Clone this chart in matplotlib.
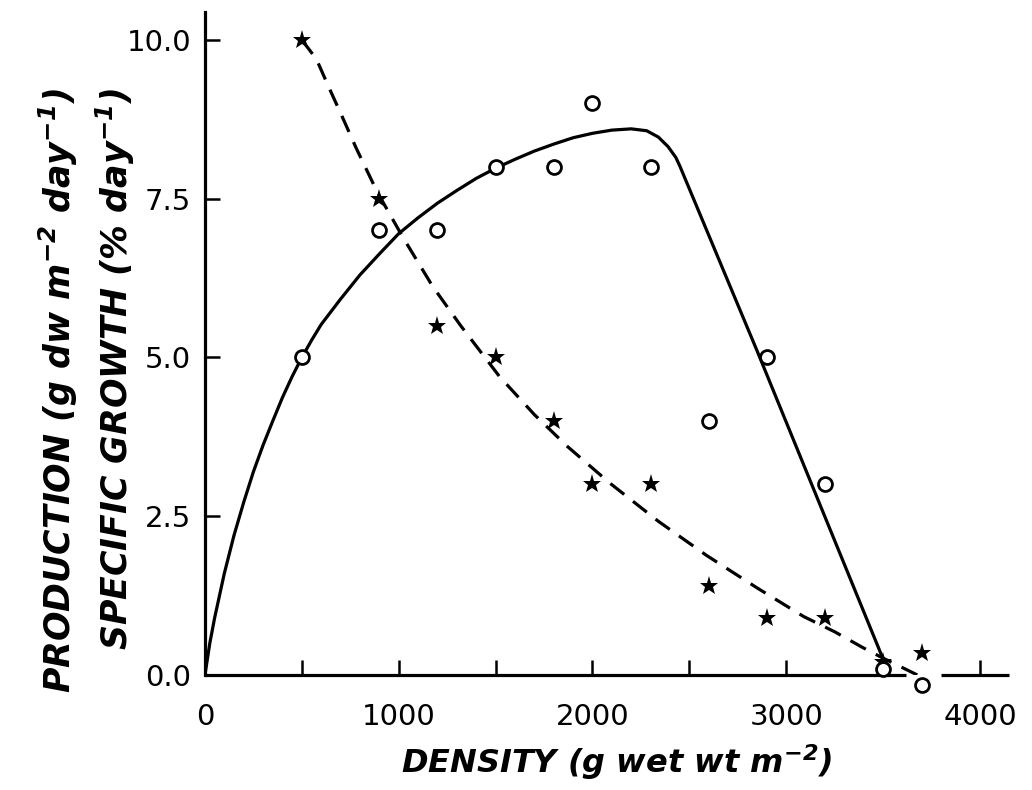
import matplotlib.pyplot as plt
from matplotlib.ticker import MultipleLocator, FixedLocator

plt.rcParams['font.family'] = 'DejaVu Sans'
plt.rcParams['mathtext.fontset'] = 'dejavusans'
plt.rcParams['mathtext.default'] = 'bfit'

# production (open circles)
prod_x = [500, 900, 1200, 1500, 1800, 2000, 2300, 2600, 2900, 3200, 3500, 3700]
prod_y = [5.0, 7.0, 7.0, 8.0, 8.0, 9.0, 8.0, 4.0, 5.0, 3.0, 0.1, -0.15]

# specific growth (stars)
growth_x = [500, 900, 1200, 1500, 1800, 2000, 2300, 2600, 2900, 3200, 3500, 3700]
growth_y = [10.0, 7.5, 5.5, 5.0, 4.0, 3.0, 3.0, 1.4, 0.9, 0.9, 0.2, 0.35]

# hand-fitted production curve
prod_fit_x = [0, 25, 50, 100, 150, 200, 250, 300, 350, 400, 450, 500, 550, 600,
              700, 800, 900, 1000, 1100, 1200, 1300, 1400, 1500, 1600, 1700,
              1800, 1900, 2000, 2100, 2200, 2280, 2340, 2390, 2430, 2450, 2850,
              3520]
prod_fit_y = [0.0, 0.5, 0.9, 1.6, 2.2, 2.72, 3.2, 3.62, 4.0, 4.37, 4.7, 5.0, 5.27,
              5.52, 5.92, 6.3, 6.63, 6.95, 7.2, 7.43, 7.63, 7.82, 7.98, 8.12, 8.25,
              8.36, 8.46, 8.53, 8.58, 8.6, 8.57, 8.47, 8.32, 8.15, 8.02, 5.1,
              0.1]

# hand-fitted growth curve
growth_fit_x = [500, 575, 640, 710, 780, 890, 1020, 1175, 1320, 1520, 1700,
                1870, 2090, 2340, 2590, 2850, 3090, 3250, 3390, 3490, 3690]
growth_fit_y = [10.0, 9.7, 9.25, 8.78, 8.3, 7.6, 6.9, 6.12, 5.5, 4.7, 4.1,
                3.6, 3.02, 2.42, 1.88, 1.37, 0.92, 0.68, 0.44, 0.28, -0.02]

fig = plt.figure(figsize=(10.32, 7.9), dpi=100)
ax = fig.add_axes([0.1986, 0.1456, 0.7792, 0.8392])

ax.plot(prod_fit_x, prod_fit_y, color='black', lw=2.3, zorder=2,
        solid_capstyle='butt', solid_joinstyle='round')
ax.plot(growth_fit_x, growth_fit_y, color='black', lw=2.3, zorder=2,
        linestyle=(0, (5.5, 3.5)), dash_capstyle='butt')

ax.plot(prod_x, prod_y, 'o', ms=10, mfc='white', mec='black', mew=2.0,
        zorder=4, clip_on=False)
ax.plot(growth_x, growth_y, '*', ms=14, color='black', mew=0,
        zorder=3, clip_on=False)

# bottom axis drawn in two pieces, broken around the last points
ax.plot([0, 3620], [0, 0], color='black', lw=2.3, zorder=3, clip_on=False,
        solid_capstyle='butt')
ax.plot([3800, 4150], [0, 0], color='black', lw=2.3, zorder=3, clip_on=False,
        solid_capstyle='butt')

ax.set_xlim(0, 4150)
ax.set_ylim(0, 10.44)

for side in ['top', 'right', 'bottom']:
    ax.spines[side].set_visible(False)
ax.spines['left'].set_linewidth(2.3)

ax.xaxis.set_major_locator(FixedLocator([0, 1000, 2000, 3000, 4000]))
ax.xaxis.set_minor_locator(FixedLocator([500, 1500, 2500, 3500]))
ax.yaxis.set_major_locator(MultipleLocator(2.5))
ax.yaxis.set_major_formatter(plt.FormatStrFormatter('%.1f'))

ax.tick_params(axis='x', which='both', direction='in', length=11, width=1.8,
               pad=20, labelsize=21)
ax.tick_params(axis='y', which='major', direction='in', length=11, width=1.8,
               pad=10, labelsize=21)

ax.text(0.512, -0.131, 'DENSITY (g wet wt m$^{-2}$)', transform=ax.transAxes,
        ha='center', va='center', fontsize=23, style='italic',
        fontweight='bold')

fig.text(0.057, 0.889, 'PRODUCTION (g dw m$^{-2}$ day$^{-1}$)', rotation=90,
         ha='center', va='top', fontsize=25, style='italic', fontweight='bold')
fig.text(0.112, 0.889, 'SPECIFIC GROWTH (% day$^{-1}$)', rotation=90,
         ha='center', va='top', fontsize=25, style='italic', fontweight='bold')

fig.savefig('out.png', dpi=100)
